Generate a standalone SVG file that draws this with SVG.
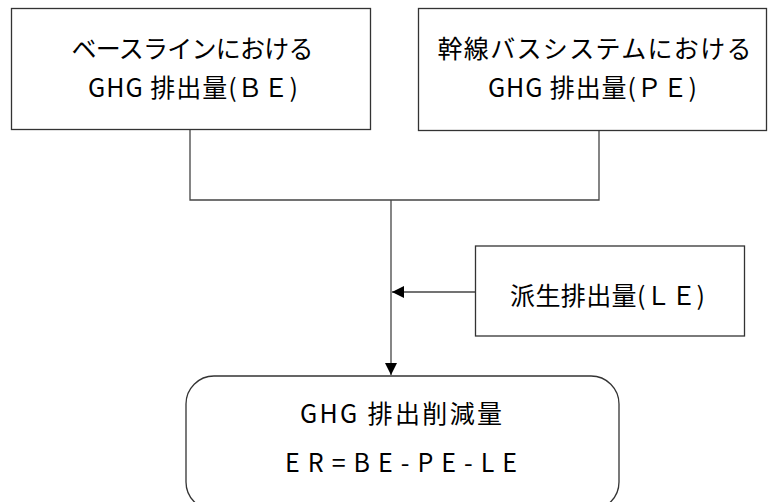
<svg xmlns="http://www.w3.org/2000/svg" width="768" height="502" viewBox="0 0 768 502">
<style>
.box{fill:#fff;stroke:#333;stroke-width:1.3}
.t{font-family:"Noto Sans CJK JP","Noto Sans",sans-serif;font-size:25px;fill:#000;text-anchor:middle}
.c{fill:none;stroke:#444;stroke-width:1.3}
</style>
<defs>
<marker id="ah" viewBox="0 0 10 10" refX="10" refY="5" markerWidth="12" markerHeight="12" markerUnits="userSpaceOnUse" orient="auto">
<path d="M0,0 L10,5 L0,10 z" fill="#000"/>
</marker>
</defs>
<rect width="768" height="502" fill="#fff"/>
<g id="connectors">
<path class="c" d="M190,130 V200 H599 V131"/>
<path class="c" d="M391,200 V375" marker-end="url(#ah)"/>
<path class="c" d="M475,292 H392" marker-end="url(#ah)"/>
</g>
<g id="be">
<rect class="box" x="11.5" y="8.5" width="359" height="121"/>
<text class="t" x="192.5" y="58" textLength="242">ベースラインにおける</text>
<text class="t" x="193" y="97" textLength="210">GHG 排出量(ＢＥ)</text>
</g>
<g id="pe">
<rect class="box" x="418.5" y="8.5" width="348" height="122"/>
<text class="t" x="594.5" y="58" textLength="314">幹線バスシステムにおける</text>
<text class="t" x="592.5" y="97" textLength="209">GHG 排出量(ＰＥ)</text>
</g>
<g id="le">
<rect class="box" x="475.5" y="246" width="269" height="90"/>
<text class="t" x="607.5" y="305" textLength="195">派生排出量(ＬＥ)</text>
</g>
<g id="er">
<rect class="box" x="186" y="376" width="433" height="134" rx="28" ry="28"/>
<text class="t" x="401" y="423" textLength="202">GHG 排出削減量</text>
<text class="t" x="401" y="472" textLength="232">ER=BE-PE-LE</text>
</g>
</svg>
